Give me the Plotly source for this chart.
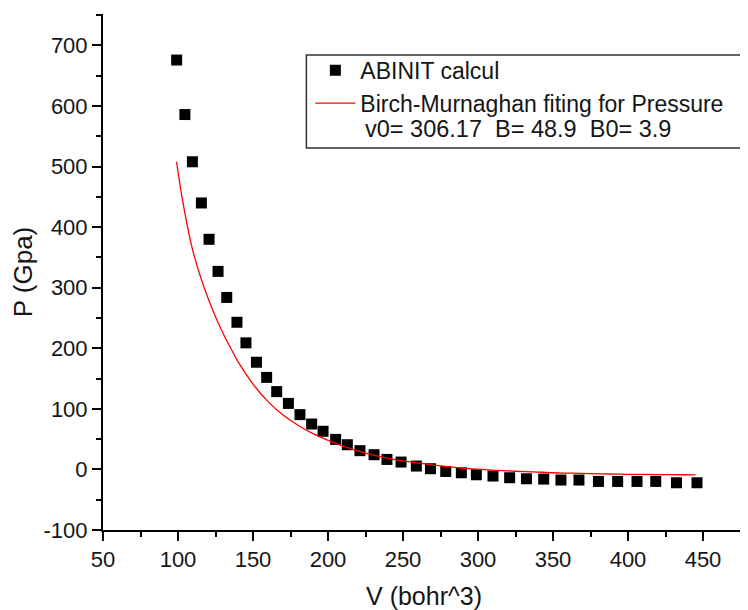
import plotly.graph_objects as go

# ABINIT calculated points (V in bohr^3, P in GPa)
v_calc = [99.1, 104.6, 109.6, 115.6, 120.7, 126.7, 132.5, 139.3, 145.3, 152.3,
          159.1, 165.8, 173.6, 181.3, 189.1, 196.7, 205.1, 212.9, 221.3, 230.7,
          239.3, 248.7, 258.9, 268.3, 278.5, 288.9, 298.9, 310.0, 321.1, 332.3,
          343.8, 355.3, 367.3, 380.3, 393.1, 406.0, 418.5, 432.3, 446.0]
p_calc = [676, 586, 508, 440, 380, 327, 284, 243, 209, 177,
          152, 128.5, 109, 90.5, 75, 63, 49.6, 40.8, 31, 24.3,
          16.5, 12.2, 5.6, 1.2, -3.3, -5.5, -8.8, -10.9, -13.7, -15.4,
          -15.9, -17.5, -17.5, -19.8, -19.8, -19.8, -19.8, -22, -22]

# Birch-Murnaghan fit curve
v_fit = [99, 101, 103, 106, 110, 115, 120, 125, 130, 135, 140, 150, 160, 170,
         180, 190, 200, 212, 225, 237, 250, 262, 275, 290, 300, 312, 325, 337,
         350, 362, 375, 387, 400, 412, 425, 437, 445]
p_fit = [508, 475, 445, 405, 360, 318, 283, 252, 225, 201, 178, 141, 112, 90,
         73, 59, 48, 37, 27, 20, 14, 10, 6, 2, 0.5, -1.5, -3, -4,
         -5.5, -6.2, -7, -7.5, -8, -8.3, -8.6, -8.8, -8.9]

x_ticks = [50, 100, 150, 200, 250, 300, 350, 400, 450]
x_ticktext = ["50", "100", "150", "200", "250", "300", "350", "400", "450"]
y_ticks = [-100, 0, 100, 200, 300, 400, 500, 600, 700]
y_ticktext = ["-100", "0", "100", "200", "300", "400", "500", "600", "700"]

fit_params = "v0= 306.17  B= 48.9  B0= 3.9"

NB = "\u00a0"
FONT = "Liberation Sans, Arial, sans-serif"
TXT = "#151515"

fig = go.Figure()
fig.add_trace(go.Scatter(
    x=v_calc, y=p_calc, mode="markers", name="ABINIT calcul",
    marker=dict(symbol="square", size=11, color="black", line=dict(width=0)),
))
fig.add_trace(go.Scatter(
    x=v_fit, y=p_fit, mode="lines", name="Birch-Murnaghan fiting for Pressure",
    line=dict(color="#ff0000", width=1.3, shape="spline"),
))

axis_common = dict(
    showline=True, linecolor="black", linewidth=2, mirror=False,
    showgrid=False, zeroline=False, automargin=False,
    ticks="outside", ticklen=9, tickwidth=2, tickcolor="black",
    tickfont=dict(family=FONT, size=22, color=TXT),
)

# legend frame (extends past the right edge as in the reference)
fig.add_shape(type="rect", xref="paper", yref="paper",
              x0=0.3168, x1=1.2, y0=0.7403, y1=0.9205,
              line=dict(color="#333", width=1.5), fillcolor="white", layer="below")

fig.add_annotation(xref="paper", yref="paper", x=0.4045, y=0.7775,
                   xanchor="left", yanchor="middle", showarrow=False,
                   text=fit_params.replace(" ", NB),
                   font=dict(family=FONT, size=23.5, color=TXT))

# page body has an 8px margin: the figure is drawn 740x602 from (8, 8)
fig.update_layout(
    width=740, height=602,
    margin=dict(l=95.3, r=2.7, t=6, b=80),
    paper_bgcolor="white", plot_bgcolor="white",
    font=dict(family=FONT, color=TXT),
    showlegend=True,
    legend=dict(
        x=0.323, y=0.9327, xanchor="left", yanchor="top",
        xref="paper", yref="paper",
        bgcolor="rgba(0,0,0,0)", borderwidth=0,
        font=dict(family=FONT, size=23, color=TXT),
        tracegroupgap=0, itemwidth=40,
    ),
    xaxis=dict(
        range=[50, 478], tickvals=x_ticks, ticktext=x_ticktext,
        title=dict(text="V (bohr^3)", font=dict(family=FONT, size=25, color=TXT), standoff=18),
        minor=dict(dtick=25, tick0=50, ticklen=5, tickwidth=2, tickcolor="black", ticks="outside"),
        **axis_common,
    ),
    yaxis=dict(
        range=[-100, 752], tickvals=y_ticks, ticktext=y_ticktext,
        title=dict(text="P (Gpa)", font=dict(family=FONT, size=26, color=TXT), standoff=9),
        minor=dict(dtick=50, tick0=-100, ticklen=5, tickwidth=2, tickcolor="black", ticks="outside"),
        **axis_common,
    ),
)

fig.write_html("out.html")
